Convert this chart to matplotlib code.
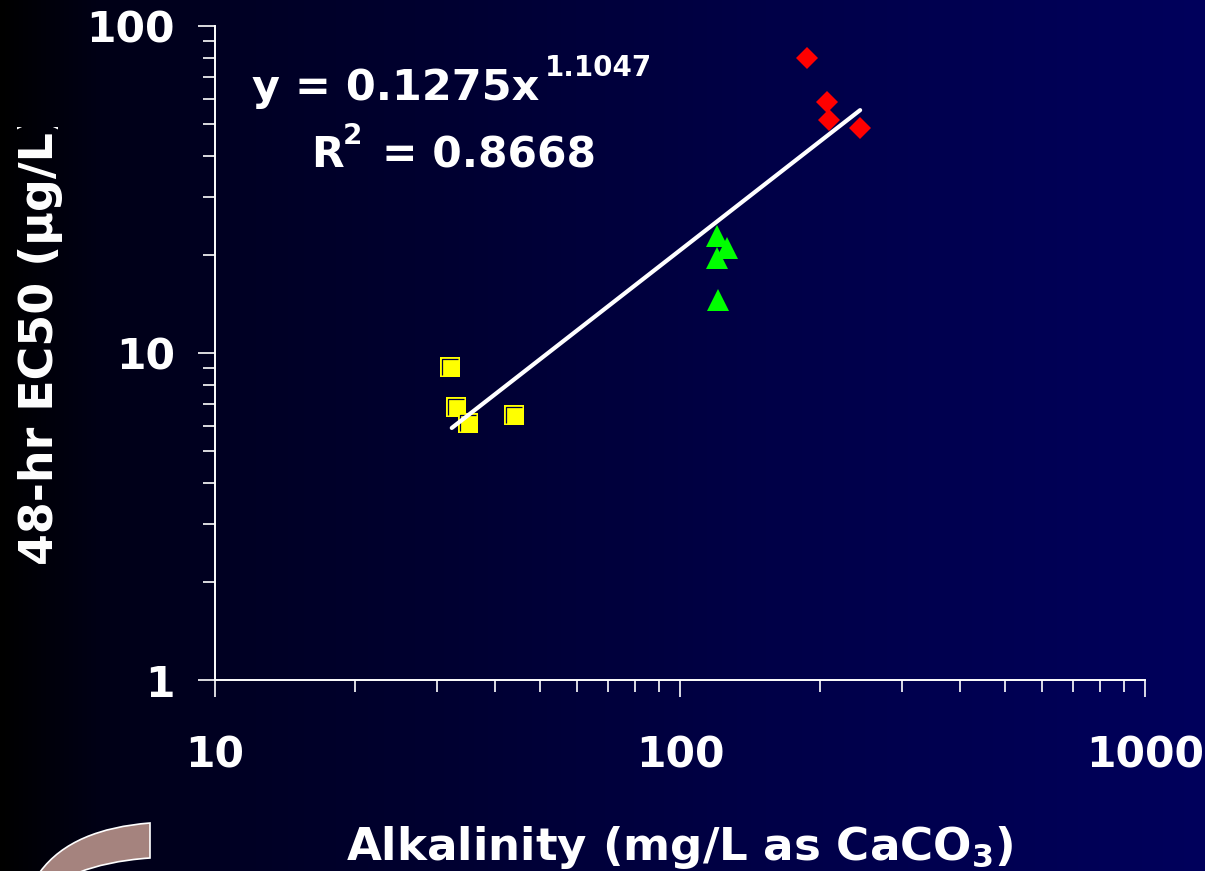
import matplotlib
matplotlib.use("Agg")
import matplotlib.pyplot as plt
import numpy as np
from matplotlib.path import Path
from matplotlib.patches import PathPatch, Rectangle
from matplotlib.ticker import LogLocator, NullFormatter, FixedFormatter, FixedLocator

# values
low_x = [32.0, 33.0, 35.0, 44.0]
low_y = [9.06, 6.84, 6.11, 6.46]
mid_x = [120, 126, 120, 121]
mid_y = [22.8, 20.9, 19.5, 14.5]
high_x = [187.6, 207, 209, 244]
high_y = [79.8, 58.6, 51.6, 48.8]
fit_x = [32.3, 244]
fit_y = [5.9, 55.3]
tick_vals = [1, 10, 100]
xtick_vals = [10, 100, 1000]

W, H = 1205, 871
plt.rcParams["font.family"] = ["DejaVu Sans"]
plt.rcParams["font.weight"] = "bold"
plt.rcParams["mathtext.fontset"] = "dejavusans"
plt.rcParams["mathtext.default"] = "bf"

fig = plt.figure(figsize=(W / 100, H / 100), dpi=100)

# background gradient, black to navy, rises faster on the left
bg = fig.add_axes([0, 0, 1, 1], zorder=0)
grad = np.zeros((2, W, 3))
grad[:, :, 2] = np.interp(np.arange(W), [0, 100, 240, 400, 780, 1205],
                          [0, 0x16, 0x24, 0x2e, 0x48, 0x5c]) / 255
bg.imshow(grad, aspect="auto", extent=[0, W, H, 0])
bg.set_xlim(0, W)
bg.set_ylim(H, 0)
bg.axis("off")

# brown arc at bottom left
verts = [(150, 823), (100, 827), (62, 842), (40, 872),
         (80, 872), (95, 866), (120, 860), (150, 858), (150, 823)]
codes = [Path.MOVETO, Path.CURVE4, Path.CURVE4, Path.CURVE4,
         Path.LINETO, Path.CURVE4, Path.CURVE4, Path.CURVE4, Path.CLOSEPOLY]
bg.add_patch(PathPatch(Path(verts, codes), facecolor="#a5837e", edgecolor="white", lw=1.2))

ax = fig.add_axes([215 / W, 1 - 680 / H, (1145 - 215) / W, (680 - 26) / H], zorder=2)
ax.patch.set_alpha(0)
ax.set_xscale("log")
ax.set_yscale("log")
ax.set_xlim(10, 1000)
ax.set_ylim(1, 100)

ax.plot(low_x, low_y, ls="none", marker="s", ms=14.4, mfc="#ffff00", mec="#ffff00", mew=0)
corner = Path([(-1, -1), (-1, 1), (1, 1)], [Path.MOVETO, Path.LINETO, Path.LINETO])
ax.plot(low_x, low_y, ls="none", marker=corner, ms=11.8, mfc="none", mec="#000040", mew=0.9)
ax.plot(mid_x, mid_y, ls="none", marker="^", ms=15.8, mfc="#00ff00", mec="#00ff00", mew=0)
ax.plot(high_x, high_y, ls="none", marker="D", ms=11.2, mfc="#ff0000", mec="#ff0000", mew=0)
ax.plot(fit_x, fit_y, color="white", lw=3.0, solid_capstyle="round")

for side in ["top", "right"]:
    ax.spines[side].set_visible(False)
for side in ["left", "bottom"]:
    ax.spines[side].set_color("white")
    ax.spines[side].set_linewidth(1.4)

ax.xaxis.set_major_locator(FixedLocator(xtick_vals))
ax.yaxis.set_major_locator(FixedLocator(tick_vals))
ax.xaxis.set_major_formatter(FixedFormatter([str(v) for v in xtick_vals]))
ax.yaxis.set_major_formatter(FixedFormatter([str(v) for v in tick_vals]))
ax.xaxis.set_minor_locator(LogLocator(base=10, subs=np.arange(2, 10), numticks=20))
ax.yaxis.set_minor_locator(LogLocator(base=10, subs=np.arange(2, 10), numticks=20))
ax.xaxis.set_minor_formatter(NullFormatter())
ax.yaxis.set_minor_formatter(NullFormatter())
ax.tick_params(axis="x", which="major", length=12, width=1.2, color="white", labelcolor="white",
               labelsize=30.5, pad=27)
ax.tick_params(axis="y", which="major", length=12, width=1.2, color="white", labelcolor="white",
               labelsize=30.5, pad=17)
ax.tick_params(which="minor", length=8.5, width=1.2, color="white")

# axis titles and equation are placed in picture pixels
bg.text(680, 860, "Alkalinity (mg/L as CaCO$_{3}$)", color="white", fontsize=32.5,
        ha="center", va="baseline", zorder=5)
ylab = bg.text(53, 565, "48-hr EC50 (µg/L)", color="white", fontsize=33, rotation=90,
               ha="left", va="baseline", rotation_mode="anchor", zorder=5)
# closing bracket is cut off in the original, only its tips show
ylab.set_clip_path(Rectangle((0, 127), 80, 500, transform=bg.transData))
ylab.set_clip_on(True)

bg.text(252, 100, "y = 0.1275x", color="white", fontsize=31, ha="left", va="baseline", zorder=5)
bg.text(545, 76, "1.1047", color="white", fontsize=20, ha="left", va="baseline", zorder=5)
bg.text(311, 167, "R", color="white", fontsize=30.5, ha="left", va="baseline", zorder=5)
bg.text(343, 144, "2", color="white", fontsize=20, ha="left", va="baseline", zorder=5)
bg.text(382, 167, "= 0.8668", color="white", fontsize=30.5, ha="left", va="baseline", zorder=5)

fig.savefig("out.png", dpi=100, facecolor="black")
